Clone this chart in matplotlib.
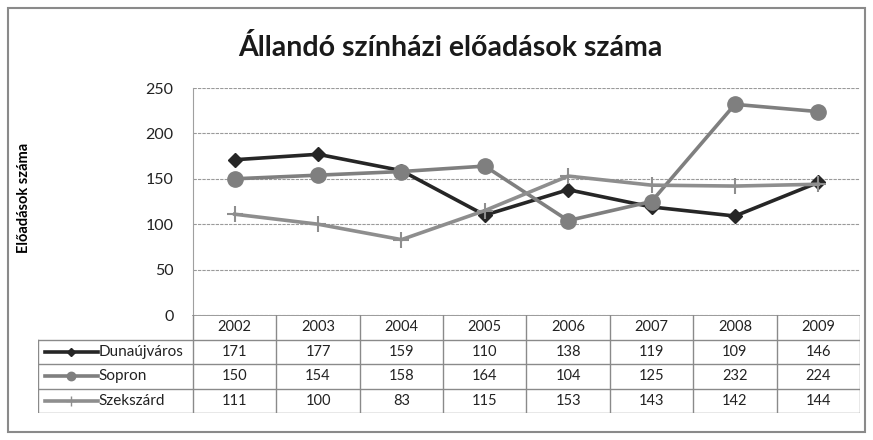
import numpy as np
import matplotlib.pyplot as plt
from matplotlib.lines import Line2D
from matplotlib.patches import Rectangle

plt.rcParams['font.family'] = ['Lato', 'DejaVu Sans']

years = ["2002", "2003", "2004", "2005", "2006", "2007", "2008", "2009"]
cities = ["Dunaújváros", "Sopron", "Szekszárd"]
duna = [171, 177, 159, 110, 138, 119, 109, 146]
sopron = [150, 154, 158, 164, 104, 125, 232, 224]
szek = [111, 100, 83, 115, 153, 143, 142, 144]
series = [duna, sopron, szek]

colors = ["#262626", "#7f7f7f", "#8e8e8e"]
markers = ["D", "o", "+"]
msizes = [7, 11, 12]

W, H = 873, 440
fig = plt.figure(figsize=(W / 100, H / 100), dpi=100)

def box(x0, y0, x1, y1):
    return [x0 / W, 1 - y1 / H, (x1 - x0) / W, (y1 - y0) / H]

# outer frame
fig.patches.append(Rectangle((8 / W, 1 - 432 / H), 857 / W, 424 / H, transform=fig.transFigure,
                             fill=False, edgecolor="#8a8a8a", lw=1.5))

ax = fig.add_axes(box(193, 88, 860, 315))
x = np.arange(len(years))
for vals, c, m, ms in zip(series, colors, markers, msizes):
    ax.plot(x, vals, color=c, lw=2.6, marker=m, markersize=ms, markeredgewidth=1.5 if m == "+" else 1,
            markeredgecolor=c, zorder=3)
ax.set_xlim(-0.5, len(years) - 0.5)
ax.set_ylim(0, 250)
ax.set_yticks([0, 50, 100, 150, 200, 250])
ax.yaxis.grid(True, color="#9a9a9a", lw=0.8, ls=(0, (3, 1)))
ax.set_xticks([])
for s in ["top", "right", "bottom"]:
    ax.spines[s].set_visible(False)
ax.spines["left"].set_color("#a0a0a0")
ax.spines["left"].set_linestyle((0, (3, 1)))
ax.tick_params(axis="y", length=0, labelsize=11.5, pad=14, colors="#222222")
ax.set_ylabel("Előadások száma", fontsize=10.5, fontweight="bold")
ax.yaxis.set_label_coords(-0.243, 0.515)

fig.text(450 / W, 1 - 47 / H, "Állandó színházi előadások száma", ha="center", va="center",
         fontsize=20.5, fontweight="bold", color="#1a1a1a")

# data table
lab_w = (193 - 38) / 83.4
tax = fig.add_axes(box(38, 315, 860, 413))
tax.set_xlim(-0.5 - lab_w, len(years) - 0.5)
tax.set_ylim(4, 0)
tax.axis("off")
lc = "#8a8a8a"
left = -0.5 - lab_w
right = len(years) - 0.5
# horizontal lines
tax.plot([-0.5, right], [0, 0], color=lc, lw=1.2)
for r in [1, 2, 3, 4]:
    tax.plot([left, right], [r, r], color=lc, lw=1.0)
# vertical lines
tax.plot([left, left], [1, 4], color=lc, lw=1.0)
for i in range(len(years) + 1):
    tax.plot([i - 0.5, i - 0.5], [0, 4], color=lc, lw=1.0)
for i, yr in enumerate(years):
    tax.text(i, 0.5, yr, ha="center", va="center", fontsize=10.5, color="#222222")
for r, (name, vals, c, m, ms) in enumerate(zip(cities, series, colors, markers, msizes)):
    yy = r + 1.5
    tax.add_line(Line2D([left + 0.08, left + 0.72], [yy, yy], color=c, lw=2.6))
    tax.add_line(Line2D([left + 0.40], [yy], marker=m, color=c, markersize=ms * 0.55,
                        markeredgecolor=c, markeredgewidth=1))
    tax.text(left + 0.73, yy, name, ha="left", va="center", fontsize=11, color="#222222")
    for i, v in enumerate(vals):
        tax.text(i, yy, str(v), ha="center", va="center", fontsize=10.5, color="#222222")

fig.savefig("out.png", dpi=100)
